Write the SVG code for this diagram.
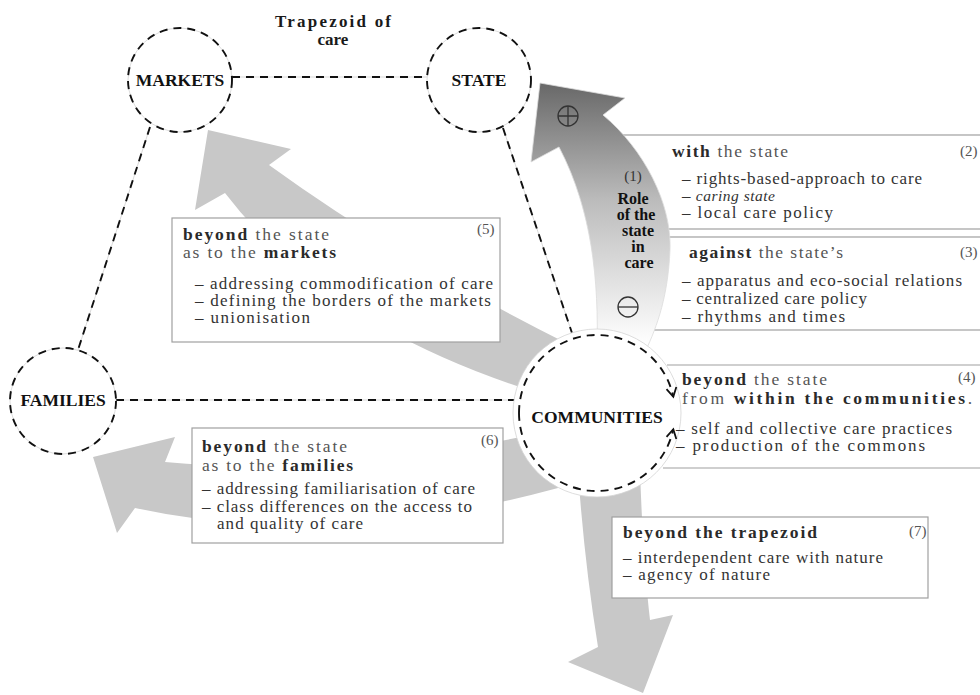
<svg xmlns="http://www.w3.org/2000/svg" width="980" height="695" viewBox="0 0 980 695">
<defs>
<linearGradient id="g1" x1="0" y1="83" x2="0" y2="345" gradientUnits="userSpaceOnUse">
<stop offset="0" stop-color="#686868"/>
<stop offset="0.45" stop-color="#bcbcbc"/>
<stop offset="1" stop-color="#ffffff"/>
</linearGradient>
<marker id="ah" markerUnits="userSpaceOnUse" markerWidth="14" markerHeight="14" refX="10" refY="6" orient="auto" overflow="visible">
<path d="M1,1 L10,6 L1,11" fill="none" stroke="#111" stroke-width="1.8"/>
</marker>
<style>
text { font-family: "Liberation Serif", "DejaVu Serif", serif; }
.title { font-size: 17px; font-weight: bold; fill: #1a1a1a; text-anchor: middle; }
.node { font-size: 17.5px; font-weight: bold; fill: #111; text-anchor: middle; }
.hd { font-size: 17.5px; fill: #555; }
.b { font-weight: bold; fill: #2a2a2a; }
.it { font-size: 17px; fill: #333; }
.num { font-size: 15px; fill: #555; }
.role { font-size: 16px; font-weight: bold; fill: #111; text-anchor: middle; }
.garrow { fill: #c8c8c8; }
.box { fill: #fff; stroke: #a0a0a0; stroke-width: 1.2; }
.boxline { fill: none; stroke: #a0a0a0; stroke-width: 1.2; }
.under { stroke: #cfcfcf; stroke-width: 0.8; fill: none; }
.dash { stroke: #111; stroke-width: 1.9; stroke-dasharray: 8 6; fill: none; }
.halo { fill: #fff; stroke: #d4d4d4; stroke-width: 0.8; }
.sym { fill: none; stroke: #333; stroke-width: 1.3; }
</style>
</defs>
<rect width="980" height="695" fill="#fff"/>

<g id="arrows">
<path id="arrow5" class="garrow" d="M208,130 L291,149 L269,165 Q400,260 570,345 L545,395 Q330,330 225,193 L195,210 Z"/>
<path id="arrow6" class="garrow" d="M545,432 Q330,478 165,462 L175,437 L93,457 L117,533 L135,508 Q330,550 558,488 Z"/>
<path id="arrow7" class="garrow" d="M576,470 L640,470 Q643,560 650,620 L673,615 L643,693 L568,662 L598,647 Q584,560 578,470 Z"/>
</g>

<g id="box2">
<rect class="box" x="622" y="135" width="400" height="94"/>
<text class="hd" x="672" y="157" textLength="116" lengthAdjust="spacing"><tspan class="b">with</tspan> the state</text>
<text class="num" x="960" y="156">(2)</text>
<text class="it" x="682" y="184" textLength="240" lengthAdjust="spacing">– rights-based-approach to care</text>
<text class="it" x="682" y="201" textLength="93" lengthAdjust="spacing">– <tspan font-style="italic" font-size="15.5">caring state</tspan></text>
<text class="it" x="682" y="218" textLength="151" lengthAdjust="spacing">– local care policy</text>
</g>

<g id="box3">
<rect class="box" x="622" y="237" width="400" height="93"/>
<text class="hd" x="689" y="258" textLength="154" lengthAdjust="spacing"><tspan class="b">against</tspan> the state’s</text>
<text class="num" x="960" y="257">(3)</text>
<text class="it" x="682" y="286" textLength="280" lengthAdjust="spacing">– apparatus and eco-social relations</text>
<text class="it" x="682" y="304" textLength="185" lengthAdjust="spacing">– centralized care policy</text>
<text class="it" x="682" y="322" textLength="163" lengthAdjust="spacing">– rhythms and times</text>
</g>

<g id="box5">
<rect class="box" x="172" y="218" width="328" height="124"/>
<text class="hd" x="183" y="240" textLength="146" lengthAdjust="spacing"><tspan class="b">beyond</tspan> the state</text>
<text class="hd" x="183" y="258" textLength="153" lengthAdjust="spacing">as to the <tspan class="b">markets</tspan></text>
<text class="num" x="477" y="234">(5)</text>
<text class="it" x="195" y="289" textLength="298" lengthAdjust="spacing">– addressing commodification of care</text>
<text class="it" x="195" y="306" textLength="296" lengthAdjust="spacing">– defining the borders of the markets</text>
<text class="it" x="195" y="323" textLength="115" lengthAdjust="spacing">– unionisation</text>
</g>

<g id="box6">
<rect class="box" x="192" y="428" width="311" height="115"/>
<text class="hd" x="202" y="452" textLength="145" lengthAdjust="spacing"><tspan class="b">beyond</tspan> the state</text>
<text class="hd" x="202" y="471" textLength="151" lengthAdjust="spacing">as to the <tspan class="b">families</tspan></text>
<text class="num" x="481" y="445">(6)</text>
<text class="it" x="202" y="494" textLength="273" lengthAdjust="spacing">– addressing familiarisation of care</text>
<text class="it" x="202" y="512" textLength="270" lengthAdjust="spacing">– class differences on the access to</text>
<text class="it" x="217" y="529" textLength="146" lengthAdjust="spacing">and quality of care</text>
</g>

<g id="box7">
<rect class="box" x="612" y="517" width="316" height="81"/>
<text class="hd" x="623" y="538" textLength="194" lengthAdjust="spacing"><tspan class="b">beyond the trapezoid</tspan></text>
<text class="num" x="909" y="536">(7)</text>
<text class="it" x="623" y="563" textLength="260" lengthAdjust="spacing">– interdependent care with nature</text>
<text class="it" x="623" y="580" textLength="147" lengthAdjust="spacing">– agency of nature</text>
</g>

<g id="role-of-state">
<path d="M540,83 L625,98 L603,115 C645,150 672,205 670,250 C668,295 658,325 645,352 L597,352 C599,280 592,210 559,147 L531,162 Z" fill="url(#g1)" stroke="#dcdcdc" stroke-width="0.8"/>
<circle class="sym" cx="568" cy="116" r="10"/>
<path class="sym" d="M558,116 H578 M568,106 V126"/>
<circle class="sym" cx="628" cy="307" r="10"/>
<path class="sym" d="M618,307 H638"/>
<text class="num" x="633" y="181" text-anchor="middle" style="fill:#333">(1)</text>
<text class="role" x="633" y="204">Role</text>
<text class="role" x="636" y="220">of the</text>
<text class="role" x="638" y="236">state</text>
<text class="role" x="638" y="252">in</text>
<text class="role" x="639" y="268">care</text>
</g>

<g id="connectors">
<path class="under" d="M232,77 H427 M150,127 L78,350 M503,128 L572,333 M116,400 H519"/>
<path class="dash" d="M232,77 H427"/>
<path class="dash" d="M150,127 L78,350"/>
<path class="dash" d="M503,128 L572,333"/>
<path class="dash" d="M116,400 H519"/>
</g>

<g id="title">
<text class="title" x="333" y="27" textLength="116" lengthAdjust="spacing">Trapezoid of</text>
<text class="title" x="333" y="45">care</text>
</g>

<g id="markets">
<circle class="halo" cx="180" cy="80" r="52"/>
<circle class="dash" cx="180" cy="80" r="52"/>
<text class="node" x="180" y="86">MARKETS</text>
</g>
<g id="state">
<circle class="halo" cx="479" cy="80" r="52"/>
<circle class="dash" cx="479" cy="80" r="52"/>
<text class="node" x="479" y="86">STATE</text>
</g>
<g id="families">
<circle class="halo" cx="63" cy="401" r="53"/>
<circle class="dash" cx="63" cy="401" r="53"/>
<text class="node" x="63" y="406">FAMILIES</text>
</g>
<g id="communities">
<circle class="halo" cx="597" cy="413" r="84"/>
<path class="dash" d="M519,413 A78,78 0 0 1 673.3,396.8" marker-end="url(#ah)"/>
<path class="dash" d="M519,413 A78,78 0 0 0 673.3,429.2" marker-end="url(#ah)"/>
<text class="node" x="597" y="423" font-size="18">COMMUNITIES</text>
</g>

<g id="box4">
<path class="boxline" d="M667,365 H1000 M663,468 H1000"/>
<text class="hd" x="682" y="385" textLength="145" lengthAdjust="spacing"><tspan class="b">beyond</tspan> the state</text>
<text class="num" x="958" y="382">(4)</text>
<text class="hd" x="682" y="404" textLength="290" lengthAdjust="spacing">from <tspan class="b">within the communities</tspan>.</text>
<text class="it" x="676" y="434" textLength="276" lengthAdjust="spacing">– self and collective care practices</text>
<text class="it" x="676" y="451" textLength="249" lengthAdjust="spacing">– production of the commons</text>
</g>
</svg>
